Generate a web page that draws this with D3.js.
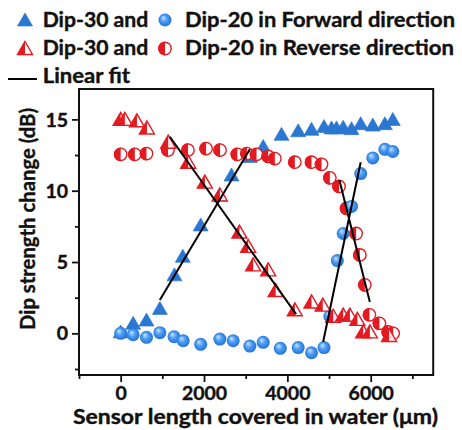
<!DOCTYPE html>
<html>
<head>
<meta charset="utf-8">
<script src="https://cdn.jsdelivr.net/npm/d3@7"></script>
<style>
  html, body { margin: 0; padding: 0; background: #fff; }
  svg { display: block; }
  text { font-family: Lato, "Open Sans", sans-serif; font-weight: bold; fill: #111; stroke: #111; stroke-width: 0.4px; }
</style>
</head>
<body>
<svg id="chart" width="462" height="430"></svg>
<script>
// Sensor length covered in water (µm) and dip strength change (dB)
const fwdDip30X = [0, 300, 620, 940, 1290, 1490, 1920, 2370, 2660, 3100, 3420, 3860, 4260, 4580, 4880, 5060, 5180, 5340, 5540, 5760, 6050, 6340, 6530];
const fwdDip30Y = [0.1, 0.7, 0.93, 1.75, 4.1, 5.4, 7.6, 9.7, 11.1, 12.4, 13.1, 13.95, 14.2, 14.3, 14.5, 14.4, 14.4, 14.45, 14.35, 14.7, 14.6, 14.7, 15.0];

const fwdDip20X = [0, 300, 620, 940, 1280, 1500, 1920, 2380, 2700, 3100, 3420, 3830, 4260, 4580, 4880, 5020, 5200, 5340, 5540, 5760, 6050, 6340, 6530];
const fwdDip20Y = [0.0, -0.1, -0.28, 0.05, -0.24, -0.52, -0.77, -0.4, -0.52, -0.89, -0.63, -1.05, -1.0, -1.36, -1.0, 1.2, 5.1, 7.0, 8.9, 11.2, 12.3, 12.9, 12.75];

const revDip30X = [0, 100, 390, 630, 1140, 1620, 2020, 2380, 2850, 3060, 3180, 3540, 3720, 4180, 4580, 4850, 5100, 5340, 5500, 5680, 5820, 5980, 6440];
const revDip30Y = [15.0, 15.0, 14.9, 14.4, 13.4, 12.0, 10.6, 9.7, 7.1, 6.1, 4.8, 4.45, 3.0, 1.65, 2.2, 1.98, 1.2, 1.28, 1.28, 0.98, 0.1, 0.1, -0.15];

const revDip20X = [0, 340, 620, 1135, 1615, 2050, 2385, 2800, 3030, 3260, 3540, 3700, 4180, 4580, 4820, 5020, 5240, 5420, 5650, 5740, 5860, 5970, 6210, 6420, 6540];
const revDip20Y = [12.55, 12.55, 12.6, 12.85, 12.85, 12.95, 12.85, 12.55, 12.6, 12.55, 12.4, 12.25, 12.0, 12.0, 11.85, 10.9, 10.3, 8.76, 7.0, 5.5, 3.4, 1.3, 0.7, 0.1, 0.0];

// Linear fits: [x start, x end] and [y start, y end]
const fitFwdDip30X = [940, 3100],  fitFwdDip30Y = [2.33, 12.9];
const fitRevDip30X = [1180, 4210], fitRevDip30Y = [13.78, 1.35];
const fitFwdDip20X = [4860, 5760], fitFwdDip20Y = [-0.59, 12.0];
const fitRevDip20X = [5250, 5980], fitRevDip20Y = [10.74, 2.2];

const xMajorTicks = [0, 2000, 4000, 6000];
const xMinorTicks = [-1000, 1000, 3000, 5000, 7000];
const yMajorTicks = [0, 5, 10, 15];
const yMinorTicks = [-2.5, 2.5, 7.5, 12.5];

const legendRows = [
  { a: "Dip-30 and", b: "Dip-20 in Forward direction" },
  { a: "Dip-30 and", b: "Dip-20 in Reverse direction" },
  { a: "Linear fit", b: null }
];

const svg = d3.select("#chart");
const BLUE = "#2b78d4", RED = "#e41a22";

// sphere gradient for blue circle markers
const defs = svg.append("defs");
const grad = defs.append("radialGradient").attr("id", "sphere")
  .attr("cx", "0.5").attr("cy", "0.5").attr("r", "0.55")
  .attr("fx", "0.35").attr("fy", "0.3");
grad.append("stop").attr("offset", "0").attr("stop-color", "#cfe6ff");
grad.append("stop").attr("offset", "0.45").attr("stop-color", "#4c9ef4");
grad.append("stop").attr("offset", "1").attr("stop-color", "#1d6cd6");

const x = d3.scaleLinear().domain([-1000, 7500]).range([79, 433.2]);
const y = d3.scaleLinear().domain([-2.92, 17.13]).range([375, 89]);

const plot = svg.append("g");

// marker drawing helpers
const TW = 7.5, TUP = 7, TDN = 6, R = 6.8;
const triPath = `M0,${-TUP}L${TW},${TDN}L${-TW},${TDN}Z`;
const triLeftHalf = `M0,${-TUP}L0,${TDN}L${-TW},${TDN}Z`;
const leftHalfCircle = r => `M0,${-r}A${r},${r} 0 0 0 0,${r}Z`;

function blueTriangles(g, pts) {
  g.selectAll("path.bt").data(pts).join("path").attr("class", "bt")
    .attr("transform", d => `translate(${d[0]},${d[1]})`)
    .attr("d", triPath).attr("fill", BLUE).attr("stroke", "#2a70c8").attr("stroke-width", 0.6);
}
function blueCircles(g, pts) {
  g.selectAll("circle.bc").data(pts).join("circle").attr("class", "bc")
    .attr("cx", d => d[0]).attr("cy", d => d[1]).attr("r", 6.5)
    .attr("fill", "url(#sphere)");
}
function redTriangles(g, pts) {
  const m = g.selectAll("g.rt").data(pts).join("g").attr("class", "rt")
    .attr("transform", d => `translate(${d[0]},${d[1]})`);
  m.append("path").attr("d", triPath).attr("fill", "#fff").attr("fill-opacity", 0.85)
    .attr("stroke", RED).attr("stroke-width", 1.4).attr("stroke-linejoin", "miter");
  m.append("path").attr("d", triLeftHalf).attr("fill", RED);
}
function redHalfCircles(g, pts) {
  const m = g.selectAll("g.rc").data(pts).join("g").attr("class", "rc")
    .attr("transform", d => `translate(${d[0]},${d[1]})`);
  m.append("circle").attr("r", R - 0.6).attr("fill", "#fff")
    .attr("stroke", RED).attr("stroke-width", 1.4);
  m.append("path").attr("d", leftHalfCircle(R)).attr("fill", RED);
}

const toPts = (xs, ys) => xs.map((v, i) => [x(v), y(ys[i])]);

blueTriangles(plot.append("g"), toPts(fwdDip30X, fwdDip30Y));
redHalfCircles(plot.append("g"), toPts(revDip20X, revDip20Y));
blueCircles(plot.append("g"), toPts(fwdDip20X, fwdDip20Y));
redTriangles(plot.append("g"), toPts(revDip30X, revDip30Y));

// linear fit lines
[[fitFwdDip30X, fitFwdDip30Y], [fitRevDip30X, fitRevDip30Y],
 [fitFwdDip20X, fitFwdDip20Y], [fitRevDip20X, fitRevDip20Y]].forEach(([fx, fy]) => {
  plot.append("line")
    .attr("x1", x(fx[0])).attr("y1", y(fy[0]))
    .attr("x2", x(fx[1])).attr("y2", y(fy[1]))
    .attr("stroke", "#000").attr("stroke-width", 2);
});

// axes
const xAxis = svg.append("g").attr("transform", `translate(0,${y.range()[0]})`)
  .call(d3.axisBottom(x).tickValues(xMajorTicks).tickSize(7).tickPadding(4).tickFormat(d3.format("d")));
svg.append("g").attr("transform", `translate(0,${y.range()[0]})`)
  .call(d3.axisBottom(x).tickValues(xMinorTicks).tickSize(4).tickFormat(""));
const yAxis = svg.append("g").attr("transform", `translate(${x.range()[0]},0)`)
  .call(d3.axisLeft(y).tickValues(yMajorTicks).tickSize(7).tickPadding(4).tickFormat(d3.format("d")));
svg.append("g").attr("transform", `translate(${x.range()[0]},0)`)
  .call(d3.axisLeft(y).tickValues(yMinorTicks).tickSize(4).tickFormat(""));

svg.selectAll(".domain").remove();
svg.selectAll(".tick line").attr("stroke", "#111").attr("stroke-width", 1.8);
xAxis.selectAll("text").attr("font-size", 19.5).attr("fill", "#111");
yAxis.selectAll("text").attr("font-size", 19.5).attr("fill", "#111").attr("dy", "0.34em");

// frame
svg.append("rect")
  .attr("x", x.range()[0]).attr("y", y.range()[1])
  .attr("width", x.range()[1] - x.range()[0]).attr("height", y.range()[0] - y.range()[1])
  .attr("fill", "none").attr("stroke", "#111").attr("stroke-width", 2);

// axis titles
svg.append("text").attr("x", 255.5).attr("y", 423.5).attr("text-anchor", "middle")
  .attr("font-size", 21).attr("textLength", 365).attr("lengthAdjust", "spacingAndGlyphs")
  .text("Sensor length covered in water (\u03bcm)");
svg.append("text").attr("transform", "translate(35,219) rotate(-90)").attr("text-anchor", "middle")
  .attr("font-size", 21).attr("textLength", 222).attr("lengthAdjust", "spacingAndGlyphs")
  .text("Dip strength change (dB)");

// legend
const legend = svg.append("g");
const rowBase = [26.5, 54.5, 83.3];
const rowMid = [20, 48.5, 79];
legendRows.forEach((row, i) => {
  legend.append("text").attr("x", 42.7).attr("y", rowBase[i]).attr("font-size", 21)
    .attr("textLength", i === 2 ? 87.3 : 105.6).attr("lengthAdjust", "spacingAndGlyphs").text(row.a);
  if (row.b) legend.append("text").attr("x", 185).attr("y", rowBase[i]).attr("font-size", 21)
    .attr("textLength", i === 0 ? 270 : 269).attr("lengthAdjust", "spacingAndGlyphs").text(row.b);
});
blueTriangles(legend.append("g"), [[25, rowMid[0]]]);
blueCircles(legend.append("g"), [[165, rowMid[0]]]);
redTriangles(legend.append("g"), [[25, rowMid[1]]]);
redHalfCircles(legend.append("g"), [[165, rowMid[1]]]);
legend.append("line").attr("x1", 8).attr("x2", 37).attr("y1", rowMid[2]).attr("y2", rowMid[2])
  .attr("stroke", "#000").attr("stroke-width", 2);
</script>
</body>
</html>
